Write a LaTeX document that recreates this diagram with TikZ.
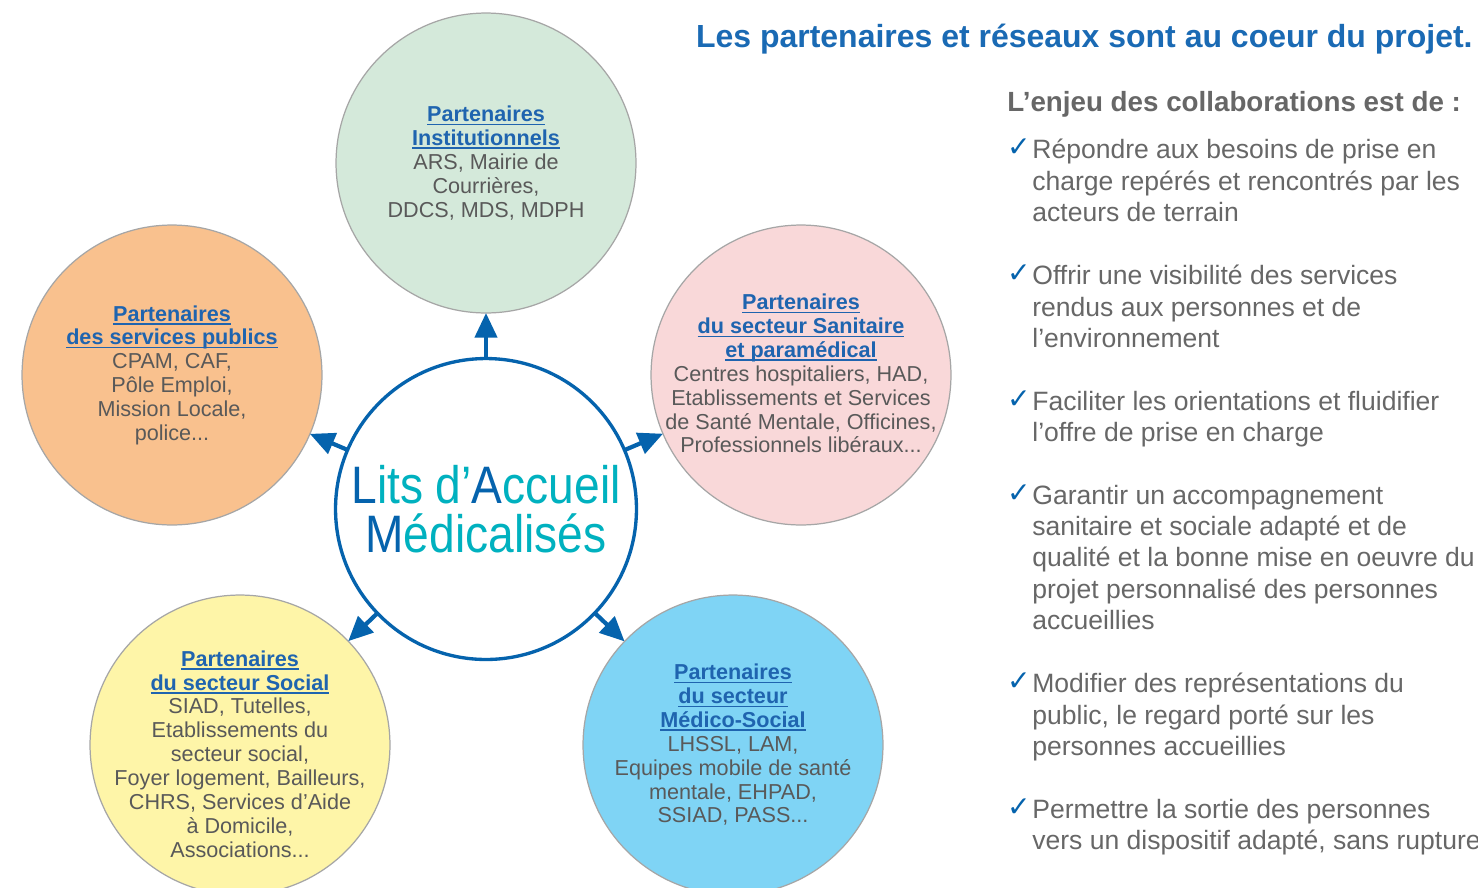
\documentclass[tikz,border=0pt]{standalone}
\usepackage{fontspec}
\usepackage{graphicx}
\setmainfont{Liberation Sans}
\newfontfamily\symbfont{DejaVu Sans}
\usetikzlibrary{arrows.meta}

\definecolor{lamblue}{HTML}{0563AD}
\definecolor{lamteal}{HTML}{00B1BF}
\definecolor{headblue}{HTML}{1F64AF}
\definecolor{titleblue}{HTML}{1A6AB4}
\definecolor{bodygray}{HTML}{595959}
\definecolor{listgray}{HTML}{676767}
\definecolor{rimgray}{HTML}{A6A6A6}
\definecolor{instfill}{HTML}{D4E9DA}
\definecolor{publfill}{HTML}{F9C18E}
\definecolor{sanifill}{HTML}{F9D8D9}
\definecolor{socfill}{HTML}{FEF5A8}
\definecolor{medfill}{HTML}{7FD4F5}

% soulignement a hauteur fixe
\newcommand{\souligne}[1]{\setbox0\hbox{#1}\rlap{\rule[-2pt]{\wd0}{0.8pt}}\box0}
\newcommand{\titre}[1]{{\bfseries\color{headblue}\souligne{#1}}}

\begin{document}
\begin{tikzpicture}[x=0.02cm, y=-0.02cm,
  partner/.style={circle, draw=rimgray, line width=0.7pt, minimum size=6cm, inner sep=0pt, outer sep=0pt},
  ptext/.style={align=center, text=bodygray, font=\fontsize{12.3}{13.6}\selectfont, inner sep=0pt, execute at begin node=\strut, execute at end node=\strut},
  link/.style={draw=lamblue, line width=2.4pt, -{Triangle[length=14pt,width=12.5pt]}},
  item/.style={anchor=west, align=left, inner sep=0pt, text=listgray, font=\fontsize{15.1}{17.9}\selectfont, execute at begin node=\strut, execute at end node=\strut},
  tick/.style={inner sep=0pt, text=lamblue, font=\symbfont\bfseries\fontsize{16}{16}\selectfont}]
  \fill[white] (0,0) rectangle (1478,887);
  \useasboundingbox (0,0) rectangle (1478,887);

  % les partenaires
  \node[partner, fill=instfill] (inst) at (486,163) {};
  \node[partner, fill=publfill] (publ) at (172,375) {};
  \node[partner, fill=sanifill] (sani) at (801,375) {};
  \node[partner, fill=socfill] (soc) at (240,745) {};
  \node[partner, fill=medfill] (med) at (733,745) {};

  \node[ptext] (inst-t) at (486,165) {\titre{Partenaires}\\ \titre{Institutionnels}\\ ARS, Mairie de\\ Courrières,\\ DDCS, MDS, MDPH};
  \node[ptext] (publ-t) at (172,376.5) {\titre{Partenaires}\\ \titre{des services publics}\\ CPAM, CAF,\\ Pôle Emploi,\\ Mission Locale,\\ police...};
  \node[ptext] (sani-t) at (801,377) {\titre{Partenaires}\\ \titre{du secteur Sanitaire}\\ \titre{et paramédical}\\ Centres hospitaliers, HAD,\\ Etablissements et Services\\ de Santé Mentale, Officines,\\ Professionnels libéraux...};
  \node[ptext] (soc-t) at (240,757.5) {\titre{Partenaires}\\ \titre{du secteur Social}\\ SIAD, Tutelles,\\ Etablissements du\\ secteur social,\\ Foyer logement, Bailleurs,\\ CHRS, Services d’Aide\\ à Domicile,\\ Associations...};
  \node[ptext] (med-t) at (733,747) {\titre{Partenaires}\\ \titre{du secteur}\\ \titre{Médico-Social}\\ LHSSL, LAM,\\ Equipes mobile de santé\\ mentale, EHPAD,\\ SSIAD, PASS...};

  % le centre
  \node[circle, draw=lamblue, line width=1.9pt, fill=white, minimum size=6.02cm, inner sep=0pt, outer sep=0pt, align=center, font=\fontsize{30}{28}\selectfont] (lam) at (486,509)
    {\scalebox{0.875}[1]{{\color{lamblue}L}{\color{lamteal}its d’}{\color{lamblue}A}{\color{lamteal}ccueil}}\\
     \scalebox{0.875}[1]{{\color{lamblue}M}{\color{lamteal}édicalisés}}};

  \draw[link] (lam) -- (inst);
  \draw[link] (lam) -- (publ);
  \draw[link] (lam) -- (sani);
  \draw[link] (lam) -- (soc);
  \draw[link] (lam) -- (med);

  % colonne de droite
  \node[anchor=base east, inner sep=0pt, text=titleblue, font=\bfseries\fontsize{18.2}{20}\selectfont] (titre) at (1473,47) {Les partenaires et réseaux sont au coeur du projet.};
  \node[anchor=base west, inner sep=0pt, text=listgray, font=\bfseries\fontsize{15.8}{18}\selectfont] (enjeu) at (1007,111) {L’enjeu des collaborations est de :};

  \node[tick] (tick1) at (1019,148) {✓};
  \node[item] (item1) at (1032,185) {Répondre aux besoins de prise en\\ charge repérés et rencontrés par les\\ acteurs de terrain};
  \node[tick] (tick2) at (1019,274) {✓};
  \node[item] (item2) at (1032,311) {Offrir une visibilité des services\\ rendus aux personnes et de\\ l’environnement};
  \node[tick] (tick3) at (1019,400) {✓};
  \node[item] (item3) at (1032,421) {Faciliter les orientations et fluidifier\\ l’offre de prise en charge};
  \node[tick] (tick4) at (1019,494) {✓};
  \node[item] (item4) at (1032,562) {Garantir un accompagnement\\ sanitaire et sociale adapté et de\\ qualité et la bonne mise en oeuvre du\\ projet personnalisé des personnes\\ accueillies};
  \node[tick] (tick5) at (1019,682) {✓};
  \node[item] (item5) at (1032,719) {Modifier des représentations du\\ public, le regard porté sur les\\ personnes accueillies};
  \node[tick] (tick6) at (1019,808) {✓};
  \node[item] (item6) at (1032,829) {Permettre la sortie des personnes\\ vers un dispositif adapté, sans rupture};
\end{tikzpicture}
\end{document}
